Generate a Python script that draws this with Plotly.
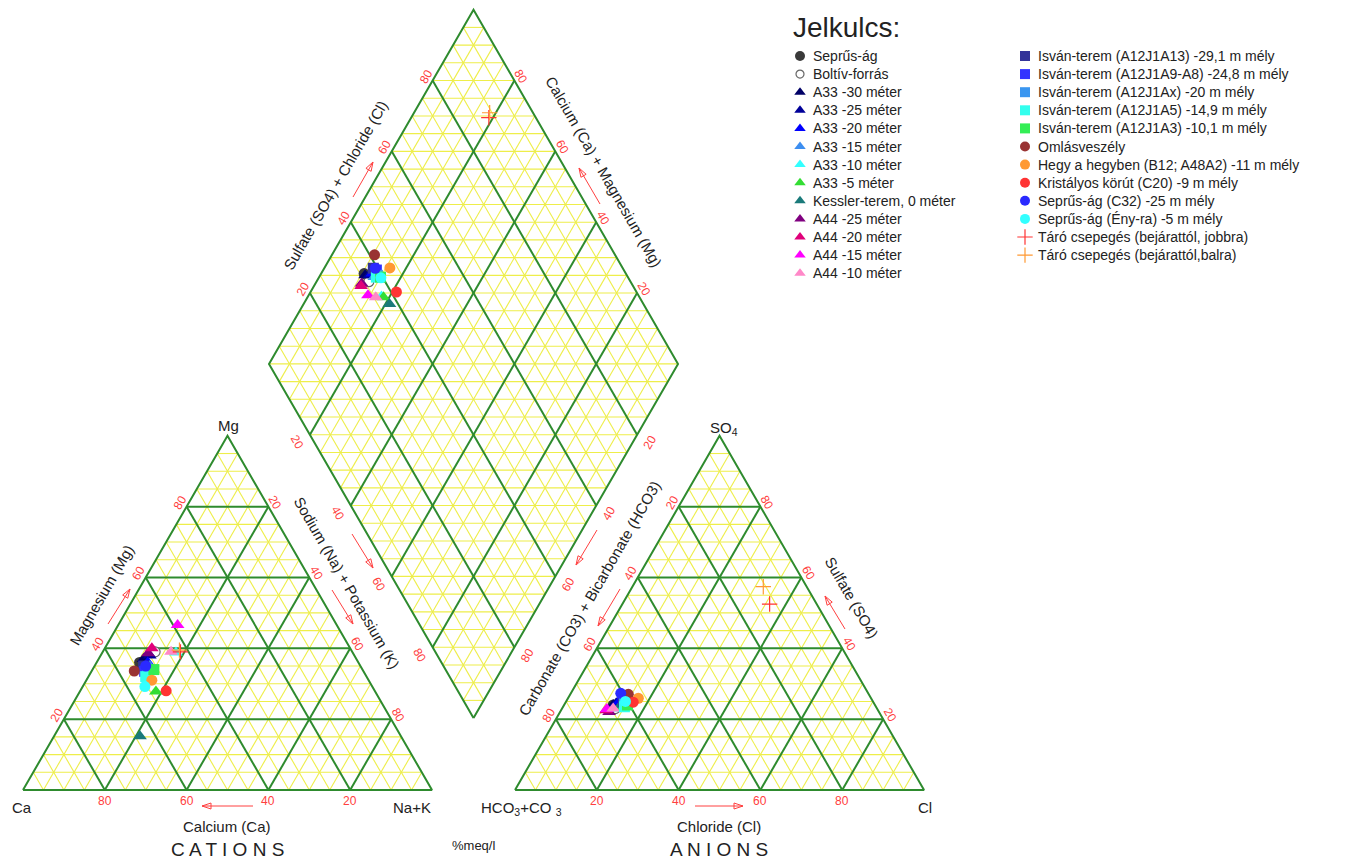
import math
import plotly.graph_objects as go

# ---------------- sample data (% meq/l) ----------------
SERIES = [
    "Seprűs-ág", "Boltív-forrás", "A33 -30 méter", "A33 -25 méter", "A33 -20 méter",
    "A33 -15 méter", "A33 -10 méter", "A33 -5 méter", "Kessler-terem, 0 méter",
    "A44 -25 méter", "A44 -20 méter", "A44 -15 méter", "A44 -10 méter",
    "Isván-terem (A12J1A13) -29,1 m mély", "Isván-terem (A12J1A9-A8) -24,8 m mély",
    "Isván-terem (A12J1Ax) -20 m mély", "Isván-terem (A12J1A5) -14,9 m mély",
    "Isván-terem (A12J1A3) -10,1 m mély", "Omlásveszély",
    "Hegy a hegyben (B12; A48A2) -11 m mély", "Kristályos körút (C20) -9 m mély",
    "Seprűs-ág (C32) -25 m mély", "Seprűs-ág (Ény-ra) -5 m mély",
    "Táró csepegés (bejárattól, jobbra)", "Táró csepegés (bejárattól,balra)",
]
SYMBOLS = (["circle", "circle"] + ["triangle-up"] * 11 + ["square"] * 5
           + ["circle"] * 5 + ["cross-thin", "cross-thin"])
COLORS = [
    "#3a3a3a", "#ffffff", "#000066", "#000099", "#0000ff", "#3d8ef0", "#33ffff",
    "#33dd33", "#1a7a7a", "#800080", "#e0007a", "#ff00ff", "#ff88c8",
    "#333399", "#3333ff", "#3a96f0", "#33ffee", "#33ee55",
    "#993333", "#ff9933", "#ff3333", "#2a2aff", "#33ffff", "#ff3333", "#ff9933",
]
# cations
CA = [53.5, 48.2, 52.0, 50.0, 51.5, 51.5, 43.2, 53.6, 63.8, 50.1, 48.5, 38.9, 44.3,
      53.0, 53.5, 53.0, 54.0, 51.0, 56.0, 53.0, 51.0, 52.5, 55.6, 42.0, 42.0]
MG = [36.0, 39.0, 37.0, 38.0, 36.0, 35.0, 38.8, 27.8, 15.2, 38.6, 40.0, 46.6, 39.0,
      35.0, 33.5, 33.0, 32.0, 34.0, 33.6, 31.0, 28.0, 35.0, 29.2, 39.0, 39.5]
NAK = [10.5, 12.8, 11.0, 12.0, 12.5, 13.5, 18.0, 18.6, 21.0, 11.3, 11.5, 14.5, 16.7,
       12.0, 13.0, 14.0, 14.0, 15.0, 10.4, 16.0, 21.0, 12.5, 15.2, 19.0, 18.5]
# anions
HCO3 = [64.0, 64.0, 64.0, 63.0, 62.0, 62.0, 63.0, 62.6, 62.1, 66.0, 66.5, 66.1, 64.5,
        61.0, 60.5, 61.0, 61.5, 60.5, 58.8, 56.9, 58.7, 60.5, 60.5, 11.5, 10.6]
SO4 = [24.0, 23.0, 24.0, 24.5, 25.0, 24.0, 23.0, 23.5, 24.0, 22.0, 22.5, 22.9, 23.0,
       25.0, 25.5, 24.5, 23.5, 24.0, 27.0, 25.9, 24.8, 27.3, 25.0, 52.5, 57.4]
CL = [12.0, 13.0, 12.0, 12.5, 13.0, 14.0, 14.0, 13.9, 13.9, 12.0, 11.0, 11.0, 12.5,
      14.0, 14.0, 14.5, 15.0, 15.5, 14.2, 17.2, 16.5, 12.2, 14.5, 36.0, 32.0]

TICKS = [20, 40, 60, 80]

# ---------------- geometry ----------------
W, HGT = 1357, 862
SCALE = 409.0              # pixels per triangle side
X0, Y0 = 23.0, 790.0       # pixel position of the Ca corner
GAP = 0.203                # gap between the two triangles (in side units)
H = math.sqrt(3) / 2
AX = 1 + GAP               # x offset of the anion triangle

FONT = "Liberation Sans, Arial, sans-serif"
GREEN = "#2e8b2e"
YELLOW = "#eeee4a"
RED = "#ff4040"


def P(xp, yp):
    """pixel -> data"""
    return ((xp - X0) / SCALE, (Y0 - yp) / SCALE)


def off(pt, nx, ny, d):
    """shift a data point by d pixels along a (data-space) unit normal"""
    return (pt[0] + nx * d / SCALE, pt[1] + ny * d / SCALE)


Bd = (1 + GAP / 2, GAP * H)
Ld = (Bd[0] - 0.5, Bd[1] + H)
Td = (Bd[0], Bd[1] + 2 * H)
Rd = (Bd[0] + 0.5, Bd[1] + H)


def lerp(p, q, t):
    return (p[0] + (q[0] - p[0]) * t, p[1] + (q[1] - p[1]) * t)


seg = {"y": ([], []), "g": ([], [])}


def add(kind, p, q):
    xs, ys = seg[kind]
    xs += [p[0], q[0], None]
    ys += [p[1], q[1], None]


def triangle_grid(ox):
    for k in range(1, 20):
        t = k / 20
        kind = "g" if k % 4 == 0 else "y"
        add(kind, (ox + t / 2, t * H), (ox + 1 - t / 2, t * H))
        add(kind, (ox + t, 0), (ox + (1 + t) / 2, (1 - t) * H))
        add(kind, (ox + t, 0), (ox + t / 2, t * H))


triangle_grid(0.0)
triangle_grid(AX)

for k in range(1, 20):
    t = k / 20
    kind = "g" if k % 4 == 0 else "y"
    add(kind, lerp(Ld, Bd, t), lerp(Td, Rd, t))
    add(kind, lerp(Ld, Td, t), lerp(Bd, Rd, t))
for m in range(1, 40):
    h = m * 0.05 * H
    w = (m if m <= 20 else 40 - m) * 0.05 / 2
    add("y", (Bd[0] - w, Bd[1] + h), (Bd[0] + w, Bd[1] + h))

fig = go.Figure()
fig.add_trace(go.Scatter(x=seg["y"][0], y=seg["y"][1], mode="lines",
                         line=dict(color=YELLOW, width=1.1), hoverinfo="skip"))
fig.add_trace(go.Scatter(x=seg["g"][0], y=seg["g"][1], mode="lines",
                         line=dict(color=GREEN, width=2), hoverinfo="skip"))
# outlines
for ox in (0.0, AX):
    fig.add_trace(go.Scatter(x=[ox, ox + 1, ox + 0.5, ox], y=[0, 0, H, 0], mode="lines",
                             line=dict(color=GREEN, width=2), hoverinfo="skip"))
fig.add_trace(go.Scatter(x=[Bd[0], Rd[0], Td[0], Ld[0], Bd[0]],
                         y=[Bd[1], Rd[1], Td[1], Ld[1], Bd[1]], mode="lines",
                         line=dict(color=GREEN, width=2), hoverinfo="skip"))


def marker_style(i, big):
    sym = SYMBOLS[i]
    if sym == "cross-thin":
        return dict(symbol=sym, size=11, line=dict(color=COLORS[i], width=1.2))
    if SERIES[i] == "Boltív-forrás":
        return dict(symbol="circle", size=10 if big else 8, color="#ffffff",
                    line=dict(color="#666666", width=1.2))
    size = (12 if sym == "triangle-up" else 11) if big else 10
    return dict(symbol=sym, size=size, color=COLORS[i], line=dict(width=0))


# ---------------- samples ----------------
for i, name in enumerate(SERIES):
    c = NAK[i] / 100
    a = (SO4[i] + CL[i]) / 100
    xs = [(NAK[i] + MG[i] / 2) / 100,
          AX + (CL[i] + SO4[i] / 2) / 100,
          (c + 1 + GAP + a) / 2]
    ys = [MG[i] / 100 * H,
          SO4[i] / 100 * H,
          H * (1 + GAP + a - c)]
    fig.add_trace(go.Scatter(x=xs, y=ys, mode="markers", marker=marker_style(i, True), name=name))

# ---------------- legend (drawn key) ----------------
ann = []
ann.append(dict(x=P(791, 27)[0], y=P(791, 27)[1], text="Jelkulcs:", xanchor="left",
                yanchor="middle", showarrow=False, font=dict(size=28, color="#222", family=FONT)))
for i, name in enumerate(SERIES):
    col, row = (0, i) if i < 13 else (1, i - 13)
    mx = 800 if col == 0 else 1025
    tx = 811 if col == 0 else 1036
    yy = 56 + row * 18.1
    kx, ky = P(mx, yy)
    fig.add_trace(go.Scatter(x=[kx], y=[ky], mode="markers", marker=marker_style(i, False),
                             hoverinfo="skip"))
    ax_, ay_ = P(tx, yy)
    ann.append(dict(x=ax_, y=ay_, text=name, xanchor="left", yanchor="middle",
                    showarrow=False, font=dict(size=14, color="#222", family=FONT)))

# ---------------- tick labels ----------------
def tick(pt, text, angle):
    ann.append(dict(x=pt[0], y=pt[1], text=str(text), showarrow=False, textangle=angle,
                    xanchor="center", yanchor="middle", font=dict(size=12, color=RED, family=FONT)))


for v in TICKS:
    f = v / 100
    # cation triangle
    tick(off((1 - f, 0), 0, -1, 11), v, 0)                                  # Ca
    tick(off((f / 2, f * H), -H, 0.5, 8), v, -60)                           # Mg
    tick(off((0.5 + f / 2, (1 - f) * H), H, 0.5, 8), v, 60)                 # Na+K
    # anion triangle
    tick(off((AX + f, 0), 0, -1, 11), v, 0)                                 # Cl
    tick(off((AX + (1 - f) / 2, (1 - f) * H), -H, 0.5, 8), v, -60)          # CO3+HCO3
    tick(off((AX + 1 - f / 2, f * H), H, 0.5, 8), v, 60)                    # SO4
    # diamond
    tick(off(lerp(Ld, Td, f), -H, 0.5, 8), v, -60)                          # SO4+Cl
    tick(off(lerp(Td, Rd, 1 - f), H, 0.5, 8), v, 60)                        # Ca+Mg
    tick(off(lerp(Ld, Bd, f), -H, -0.5, 15), v, 60)                         # Na+K
    tick(off(lerp(Bd, Rd, 1 - f), H, -0.5, 15), v, -60)                     # CO3+HCO3

# ---------------- axis titles ----------------
def label(text, xp, yp, angle=0, size=15):
    x, y = P(xp, yp)
    ann.append(dict(x=x, y=y, text=text, showarrow=False, textangle=angle,
                    xanchor="center", yanchor="middle",
                    font=dict(size=size, color="#222", family=FONT)))


label("Magnesium (Mg)", 101, 595, -60)
label("Sodium (Na) + Potassium (K)", 347, 582, 60)
label("Calcium (Ca)", 227, 826)
label("Chloride (Cl)", 719, 826)
label("Carbonate (CO3) + Bicarbonate (HCO3)", 589, 598, -60)
label("Sulfate (SO4)", 852, 597, 60)
label("Sulfate (SO4) + Chloride (Cl)", 335, 185, -60)
label("Calcium (Ca) + Magnesium (Mg)", 604, 171, 60)
label("Mg", 228, 425)
label("Ca", 22, 807)
label("Na+K", 412, 807)
label("HCO<sub>3</sub>+CO <sub>3</sub>", 521, 808)
label("Cl", 925, 807)
label("SO<sub>4</sub>", 724, 428)
label("C A T I O N S", 227, 849, 0, 19)
label("A N I O N S", 719, 849, 0, 19)
label("%meq/l", 473, 845, 0, 13)

# ---------------- direction arrows ----------------
ARROWS = [
    ((253, 806), (202, 806)),
    ((695, 806), (743, 806)),
    ((108, 624), (130, 589)),
    ((332, 590), (353, 624)),
    ((352, 534), (373, 568)),
    ((597, 530), (576, 565)),
    ((620, 589), (598, 626)),
    ((845, 629), (825, 596)),
    ((353, 197), (373, 162)),
    ((600, 204), (579, 168)),
]
shapes = []
for (x1, y1), (x2, y2) in ARROWS:
    L = math.hypot(x2 - x1, y2 - y1)
    ux, uy = (x2 - x1) / L, (y2 - y1) / L
    nx, ny = -uy, ux
    bx, by = x2 - 9 * ux, y2 - 9 * uy
    pts = [P(x1, y1), P(x2, y2), P(bx + 3 * nx, by + 3 * ny), P(bx - 3 * nx, by - 3 * ny)]
    path = (f"M{pts[0][0]},{pts[0][1]} L{pts[1][0]},{pts[1][1]} "
            f"M{pts[1][0]},{pts[1][1]} L{pts[2][0]},{pts[2][1]} "
            f"L{pts[3][0]},{pts[3][1]} Z")
    shapes.append(dict(type="path", path=path, xref="x", yref="y",
                       line=dict(color=RED, width=1)))

xr = (P(0, 0)[0], P(W, 0)[0])
yr = (P(0, HGT)[1], P(0, 0)[1])
fig.update_layout(
    width=W, height=HGT, autosize=False,
    margin=dict(l=0, r=0, t=0, b=0),
    paper_bgcolor="white", plot_bgcolor="white",
    showlegend=False,
    xaxis=dict(range=list(xr), visible=False, fixedrange=True),
    yaxis=dict(range=list(yr), visible=False, fixedrange=True),
    annotations=ann, shapes=shapes,
    font=dict(family=FONT),
)
fig.write_html("out.html")
